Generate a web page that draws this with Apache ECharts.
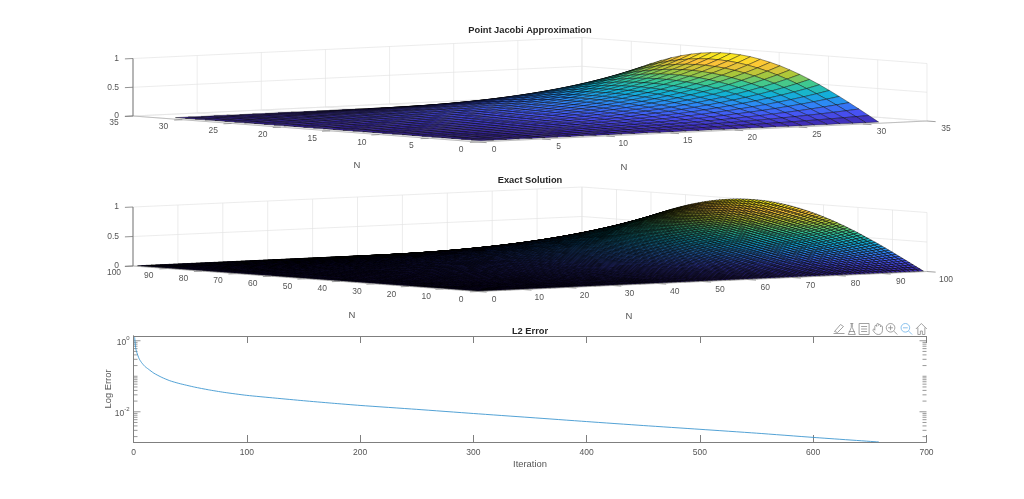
<!DOCTYPE html>
<html>
<head>
<meta charset="utf-8">
<style>html,body{margin:0;padding:0;background:#fff}#chart{width:1024px;height:499px}</style>
<script src="https://cdn.jsdelivr.net/npm/echarts@6/dist/echarts.min.js"></script>
</head>
<body>
<div id="chart"></div>
<script>
// heights: each surface is kept as two profiles,
// rise along the right axis and arch along the left axis, the grid is their product
var jacobiRise = [0,.009,.018,.027,.036,.046,.056,.067,.078,.090,.103,.118,.133,.150,.168,.189,.211,.235,.261,.291,.323,.358,.398,.441,.489,.542,.600,.665,.737,.816,.903,1];
var jacobiArch = [0,.101,.201,.299,.394,.485,.571,.651,.725,.790,.849,.897,.937,.968,.988,.999,.999,.988,.968,.937,.897,.849,.790,.725,.651,.571,.485,.394,.299,.201,.101,0];
var exactRise = [0,.003,.005,.008,.011,.014,.016,.019,.022,.025,.028,.031,.034,.037,.040,.043,.046,.049,.052,.055,.059,.062,.065,.069,.072,.076,.080,.083,.087,.091,.095,.099,.103,.108,.112,.117,.122,.127,.132,.137,.142,.147,.153,.158,.164,.170,.176,.182,.189,.196,.203,.210,.217,.225,.233,.241,.249,.257,.266,.275,.284,.294,.304,.314,.325,.335,.347,.358,.370,.382,.395,.408,.421,.435,.449,.464,.479,.495,.511,.528,.545,.562,.581,.600,.620,.640,.661,.682,.705,.727,.750,.775,.800,.827,.853,.881,.909,.939,.969,1];
var exactArch = [0,.032,.063,.095,.127,.158,.189,.220,.251,.282,.312,.342,.372,.401,.430,.458,.486,.513,.541,.567,.593,.618,.643,.667,.690,.713,.735,.756,.776,.796,.815,.833,.850,.866,.881,.896,.910,.922,.934,.945,.955,.964,.972,.979,.985,.990,.994,.997,.999,1,1,.999,.997,.994,.990,.985,.979,.972,.964,.955,.945,.934,.922,.910,.896,.881,.866,.850,.833,.815,.796,.776,.756,.735,.713,.690,.667,.643,.618,.593,.567,.541,.513,.486,.458,.430,.401,.372,.342,.312,.282,.251,.220,.189,.158,.127,.095,.063,.032,0];

var jacobiTicks = [0,5,10,15,20,25,30,35];
var exactTicks = [0,10,20,30,40,50,60,70,80,90,100];
var heightTicks = [0,0.5,1];

var errorIterations = [1,2,3,5,7,10,13,18,25,32,40,54,66,80,100,125,150,175,200,250,300,350,400,450,500,550,600,658];
var errorValues = [1.26,.6,.46,.31,.246,.19,.16,.122,.093,.075,.063,.0495,.0417,.0352,.029,.0243,.0205,.0175,.0151,.0117,.00895,.0069,.0053,.0041,.00321,.0025,.0019,.00141];
var logTickValues = [1,.9,.8,.7,.6,.5,.4,.3,.2,.1,.09,.08,.07,.06,.05,.04,.03,.02,.01,.009,.008,.007,.006,.005,.004,.003,.002];

// parula, low to high
var parula = [[62,38,168],[72,82,244],[46,135,247],[18,177,214],[55,200,151],[171,199,57],[254,195,56],[249,251,21]];

var textColor = '#555';
var tickFont = '8.5px "Liberation Sans"';

function parulaColor(t){
	var p = Math.min(Math.max(t,0),0.9999)*(parula.length-1);
	var k = Math.floor(p), f = p-k, a = parula[k], b = parula[k+1];
	return 'rgb('+Math.round(a[0]+(b[0]-a[0])*f)+','+Math.round(a[1]+(b[1]-a[1])*f)+','+Math.round(a[2]+(b[2]-a[2])*f)+')';
}

var jacobiPanel = {name:'jacobi',axis:0,max:35,ticks:jacobiTicks,rise:jacobiRise,arch:jacobiArch,edge:0.4,
	xSpan:449,ySpan:345,xLift:21,yLift:26,zLift:57.5,left:133,bottom:142};
var exactPanel = {name:'exact',axis:1,max:100,ticks:exactTicks,rise:exactRise,arch:exactArch,edge:0.55,
	xSpan:449,ySpan:345,xLift:20,yLift:25.5,zLift:59,left:133,bottom:291.5};

// 3D data position to the hidden axes of the panel
function project(panel,x,y,z){
	return [
		panel.xSpan*x/panel.max + panel.ySpan*(1-y/panel.max),
		panel.xLift*x/panel.max + panel.yLift*y/panel.max + panel.zLift*z
	];
}

function line(api,panel,a,b,color,width){
	var p = api.coord(project(panel,a[0],a[1],a[2]));
	var q = api.coord(project(panel,b[0],b[1],b[2]));
	return {type:'line',shape:{x1:p[0],y1:p[1],x2:q[0],y2:q[1]},style:{stroke:color,lineWidth:width}};
}

function label(x,y,text,align){
	return {type:'text',x:x,y:y,style:{text:text,fill:textColor,font:tickFont,align:align||'center',verticalAlign:'middle'}};
}

// back walls and floor, drawn under the surface
function wallSeries(panel){
	return {
		type:'custom',name:panel.name+' walls',xAxisIndex:panel.axis,yAxisIndex:panel.axis,silent:true,
		data:[[0,0]],
		renderItem:function(params,api){
			var kids = [], m = panel.max, grid = '#e4e4e4';
			panel.ticks.forEach(function(t){
				kids.push(line(api,panel,[t,m,0],[t,m,1],grid,0.7));
				kids.push(line(api,panel,[m,t,0],[m,t,1],grid,0.7));
				kids.push(line(api,panel,[t,0,0],[t,m,0],grid,0.7));
				kids.push(line(api,panel,[0,t,0],[m,t,0],grid,0.7));
			});
			heightTicks.forEach(function(h){
				kids.push(line(api,panel,[0,m,h],[m,m,h],grid,0.7));
				kids.push(line(api,panel,[m,0,h],[m,m,h],grid,0.7));
			});
			return {type:'group',children:kids};
		}
	};
}

// far cells first so the near ones paint over them
function surfaceSeries(panel){
	var cells = [];
	for(var i=panel.rise.length-2;i>=0;i--){
		for(var j=panel.arch.length-2;j>=0;j--){
			cells.push([i,j]);
		}
	}
	function height(i,j){ return panel.rise[i]*panel.arch[j]; }
	return {
		type:'custom',name:panel.name+' surface',xAxisIndex:panel.axis,yAxisIndex:panel.axis,silent:true,
		progressive:0,
		data:cells,
		renderItem:function(params,api){
			var i = cells[params.dataIndex][0], j = cells[params.dataIndex][1];
			var pts = [[i,j],[i+1,j],[i+1,j+1],[i,j+1]].map(function(c){
				return api.coord(project(panel,c[0]+1,c[1]+1,height(c[0],c[1])));
			});
			var mean = (height(i,j)+height(i+1,j)+height(i+1,j+1)+height(i,j+1))/4;
			return {type:'polygon',shape:{points:pts},style:{fill:parulaColor(mean),stroke:'#000',lineWidth:panel.edge}};
		}
	};
}

// front axes, ticks and their labels
function frameSeries(panel){
	return {
		type:'custom',name:panel.name+' axes',xAxisIndex:panel.axis,yAxisIndex:panel.axis,silent:true,
		data:[[0,0]],
		renderItem:function(params,api){
			var kids = [], m = panel.max, dark = '#777';
			kids.push(line(api,panel,[0,0,0],[m,0,0],'#aaa',0.7));
			kids.push(line(api,panel,[0,0,0],[0,m,0],'#aaa',0.7));
			kids.push(line(api,panel,[0,m,0],[0,m,1],dark,1));
			panel.ticks.forEach(function(t){
				var f = t/m, p;
				kids.push(line(api,panel,[t,0,0],[t,-0.025*m,0],'#888',0.8));
				kids.push(line(api,panel,[0,t,0],[-0.018*m,t,0],'#888',0.8));
				p = api.coord(project(panel,t,0,0));
				kids.push(label(p[0]+16+3*f,p[1]+8,String(t)));
				p = api.coord(project(panel,0,t,0));
				kids.push(label(p[0]-17-2*f,p[1]+8-f,String(t)));
			});
			heightTicks.forEach(function(h){
				kids.push(line(api,panel,[0,m,h],[-0.018*m,m,h],dark,0.8));
				var p = api.coord(project(panel,0,m,h));
				kids.push(label(p[0]-14,p[1],String(h),'right'));
			});
			return {type:'group',children:kids};
		}
	};
}

function hiddenGrid(panel){
	var h = panel.xLift+panel.yLift+panel.zLift;
	return {left:panel.left,top:panel.bottom-h,width:panel.xSpan+panel.ySpan,height:h};
}
function hiddenX(panel){ return {type:'value',gridIndex:panel.axis,min:0,max:panel.xSpan+panel.ySpan,show:false}; }
function hiddenY(panel){ return {type:'value',gridIndex:panel.axis,min:0,max:panel.xLift+panel.yLift+panel.zLift,show:false}; }

function titleAt(text,top){
	return {text:text,left:530,top:top,padding:0,textAlign:'center',textStyle:{fontFamily:'Liberation Sans',fontSize:9.3,fontWeight:'bold',color:'#262626'}};
}
function nameAt(x,y){
	return {type:'text',x:x,y:y,silent:true,style:{text:'N',fill:textColor,font:'9.5px "Liberation Sans"',align:'center',verticalAlign:'middle'}};
}
function tool(path,color){
	return {show:true,title:'',icon:'path://'+path,onclick:function(){},iconStyle:{color:'none',borderColor:color||'#8a8a8a',borderWidth:0.8}};
}

var logLine = '#7f7f7f';
var logAxisName = {color:textColor,fontFamily:'Liberation Sans',fontSize:9.4};
var zoomRing = 'M1 5.5 A4.5 4.5 0 1 1 10 5.5 A4.5 4.5 0 1 1 1 5.5 Z M3 5.5 H8 M9 9 L12.5 12.5';

var myChart = echarts.init(document.getElementById('chart'));
var option = {
	backgroundColor:'#fff',
	animation:false,
	title:[titleAt('Point Jacobi Approximation',26),titleAt('Exact Solution',176),titleAt('L2 Error',327)],
	grid:[hiddenGrid(jacobiPanel),hiddenGrid(exactPanel),{left:133.5,top:336,width:793,height:106}],
	xAxis:[hiddenX(jacobiPanel),hiddenX(exactPanel),
		{type:'value',gridIndex:2,min:0,max:700,interval:100,splitLine:{show:false},
			axisLine:{lineStyle:{color:logLine}},axisTick:{inside:true,length:7,lineStyle:{color:logLine}},
			axisLabel:{color:textColor,fontFamily:'Liberation Sans',fontSize:8.5,margin:6},name:'Iteration',nameLocation:'middle',nameGap:18,nameTextStyle:logAxisName},
		{type:'value',gridIndex:2,position:'top',min:0,max:700,interval:100,splitLine:{show:false},
			axisLine:{lineStyle:{color:logLine}},axisTick:{inside:true,length:7,lineStyle:{color:logLine}},axisLabel:{show:false}}
	],
	yAxis:[hiddenY(jacobiPanel),hiddenY(exactPanel),
		{type:'log',gridIndex:2,min:0.00141,max:1.36,logBase:10,splitLine:{show:false},
			axisLine:{show:true,lineStyle:{color:logLine}},axisTick:{show:false},
			axisLabel:{color:textColor,fontFamily:'Liberation Sans',fontSize:8.5,margin:4,showMinLabel:false,showMaxLabel:false,
				formatter:function(v){
					var e = Math.log(v)/Math.LN10;
					if(Math.abs(e)<1e-6) return '{b|10}{s|0}';
					if(Math.abs(e+2)<1e-6) return '{b|10}{s|-2}';
					return '';
				},
				rich:{b:{fontSize:8.5,color:textColor,fontFamily:'Liberation Sans',padding:[3,0,0,0]},s:{fontSize:6,color:textColor,fontFamily:'Liberation Sans',padding:[0,0,4,0]}}
			},
			name:'Log Error',nameLocation:'middle',nameGap:21,nameMoveOverlap:false,nameRotate:90,nameTextStyle:logAxisName},
		{type:'log',gridIndex:2,position:'right',min:0.00141,max:1.36,logBase:10,splitLine:{show:false},
			axisLine:{show:true,lineStyle:{color:logLine}},axisTick:{show:false},axisLabel:{show:false}}
	],
	toolbox:{left:831,top:321,padding:0,itemSize:11,itemGap:-1.2,showTitle:false,
		feature:{
			myBrush:tool('M1 12 H12 M2 10 L8 3 L11 5 L5 11 Z'),
			myTip:tool('M5 1 H8 M6 1 V5 L3 12 H10 L7 5 V1 M3.5 9 H9.5'),
			myLegend:tool('M1 1 H11 V12 H1 Z M3 4 H9 M3 6.5 H9 M3 9 H9'),
			myPan:tool('M3 8 V4 A1 1 0 0 1 5 4 V2 A1 1 0 0 1 7 2 V3 A1 1 0 0 1 9 3 V4.5 A1 1 0 0 1 11 4.5 V8 C11 11 9 12.5 7 12.5 C4 12.5 3 11 1 8 C1 6.5 2.5 6.5 3 8 Z'),
			myZoomIn:tool(zoomRing+' M5.5 3 V8'),
			myZoomOut:tool(zoomRing,'#6db3e8'),
			myHome:tool('M1 6.5 L6.5 1 L12 6.5 M3 5 V12 H5.5 V8.5 H7.5 V12 H10 V5')
		}
	},
	graphic:[nameAt(357,165),nameAt(624,167),nameAt(352,315),nameAt(629,316)],
	series:[
		wallSeries(jacobiPanel),surfaceSeries(jacobiPanel),frameSeries(jacobiPanel),
		wallSeries(exactPanel),surfaceSeries(exactPanel),frameSeries(exactPanel),
		{
			type:'custom',name:'log ticks',xAxisIndex:2,yAxisIndex:2,silent:true,
			data:logTickValues.map(function(v){ return [0,v]; }),
			renderItem:function(params,api){
				var v = api.value(1);
				var len = (v===1||v===0.01) ? 7 : 4;
				var l = api.coord([0,v]), r = api.coord([700,v]);
				return {type:'group',children:[
					{type:'line',shape:{x1:l[0],y1:l[1],x2:l[0]+len,y2:l[1]},style:{stroke:logLine,lineWidth:0.8}},
					{type:'line',shape:{x1:r[0],y1:r[1],x2:r[0]-len,y2:r[1]},style:{stroke:logLine,lineWidth:0.8}}
				]};
			}
		},
		{
			type:'line',name:'L2 Error',xAxisIndex:2,yAxisIndex:2,showSymbol:false,silent:true,clip:true,smooth:0.2,
			lineStyle:{color:'#3f97d0',width:0.9},
			data:errorIterations.map(function(it,k){ return [it,errorValues[k]]; })
		}
	]
};
myChart.setOption(option);
</script>
</body>
</html>
